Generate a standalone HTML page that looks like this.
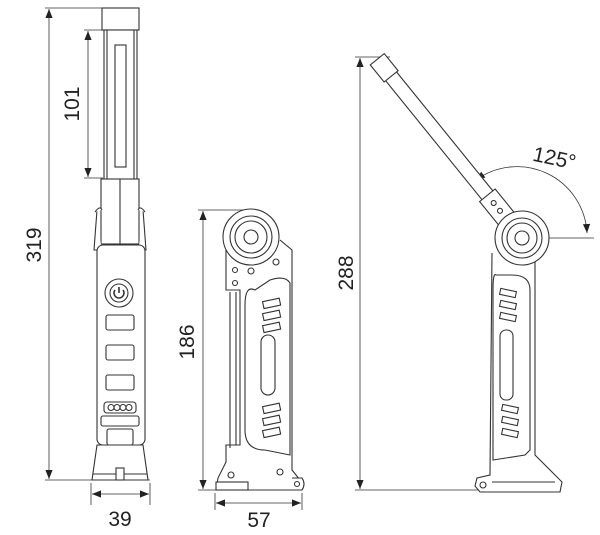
<!DOCTYPE html>
<html><head><meta charset="utf-8"><style>
html,body{margin:0;padding:0;background:#fff;width:600px;height:535px;overflow:hidden}
svg{display:block}
text{font-family:"Liberation Sans",sans-serif;fill:#222}
</style></head><body>
<svg width="600" height="535" viewBox="0 0 600 535" xmlns="http://www.w3.org/2000/svg">
<defs>
<marker id="a" viewBox="0 0 10 10" refX="10" refY="5" markerWidth="11" markerHeight="9" orient="auto-start-reverse" markerUnits="userSpaceOnUse"><path d="M0,1 L10,5 L0,9 z" fill="#222"/></marker>
</defs>
<g fill="none" stroke="#333" stroke-width="0.8">
<line x1="45" y1="8" x2="102" y2="8"/>
<line x1="49" y1="9" x2="49" y2="479" marker-start="url(#a)" marker-end="url(#a)"/>
<line x1="45" y1="480" x2="150" y2="480"/>
<line x1="84" y1="30" x2="103" y2="30"/>
<line x1="84" y1="178" x2="103" y2="178"/>
<line x1="88" y1="31" x2="88" y2="177" marker-start="url(#a)" marker-end="url(#a)"/>
<line x1="91" y1="483" x2="91" y2="505"/>
<line x1="150" y1="483" x2="150" y2="505"/>
<line x1="92" y1="494" x2="149" y2="494" marker-start="url(#a)" marker-end="url(#a)"/>
</g>
<g fill="#fff" stroke="#333" stroke-width="1.1">
<rect x="102" y="8" width="37" height="22"/>
<rect x="104" y="30" width="33" height="150"/>
<line x1="107" y1="30" x2="107" y2="180"/><line x1="134" y1="30" x2="134" y2="180"/>
<rect x="115" y="45" width="11" height="122"/>
<rect x="101" y="179" width="38" height="65"/>
<line x1="120" y1="179" x2="120" y2="480"/>
<path d="M97,210 L94,250 L99,250 L101,245 M143,210 L146,250 L141,250 L139,245"/>
<path d="M95,212 Q100,205 102,210 M145,212 Q140,205 138,210"/>
<rect x="97" y="245" width="48" height="200" rx="6"/>
<circle cx="119" cy="293" r="14"/><circle cx="119" cy="293" r="9"/>
<path d="M115,290 A5,5 0 1 0 123,290 M119,287 L119,293" stroke-width="1.6"/>
<rect x="106" y="315" width="28" height="15" rx="2"/>
<rect x="106" y="345" width="28" height="15" rx="2"/>
<rect x="106" y="375" width="28" height="15" rx="2"/>
<rect x="104" y="402" width="32" height="11" rx="3"/>
<circle cx="111" cy="407.5" r="3"/><circle cx="117" cy="407.5" r="3"/><circle cx="123" cy="407.5" r="3"/><circle cx="129" cy="407.5" r="3"/>
<rect x="101" y="416" width="38" height="10" rx="2"/>
<rect x="107" y="429" width="26" height="16" rx="2"/>
<path d="M92,480 L97,445 L143,445 L148,480 Z"/>
<line x1="93" y1="474" x2="147" y2="474"/>
<rect x="116" y="468" width="8" height="12"/>
</g>
<g fill="none" stroke="#333" stroke-width="0.8">
<line x1="198" y1="210" x2="250" y2="210"/>
<line x1="203" y1="211" x2="203" y2="489" marker-start="url(#a)" marker-end="url(#a)"/>
<line x1="198" y1="490" x2="216" y2="490"/>
<line x1="215" y1="493" x2="215" y2="510"/>
<line x1="302" y1="493" x2="302" y2="510"/>
<line x1="216" y1="503" x2="301" y2="503" marker-start="url(#a)" marker-end="url(#a)"/>
</g>
<g fill="#fff" stroke="#333" stroke-width="1.1">
<path d="M226,238 L226,290 L240,290 L240,445 L226,445 L226,462 L218,478 L216,490 L300,490 L300,480 L292,470 L292,250 L280,240"/>
<path d="M230,292 L230,448 M236,292 L236,445"/>
<path d="M255,290 Q245,285 245,305 L245,430 Q245,450 265,450 L290,455 L290,283 Q285,275 270,280 Z"/>
<rect x="263" y="300" width="17" height="7" transform="rotate(-12 271 303)"/>
<rect x="263" y="312" width="17" height="7" transform="rotate(-12 271 315)"/>
<rect x="263" y="324" width="17" height="7" transform="rotate(-12 271 327)"/>
<rect x="261" y="335" width="14" height="60" rx="7"/>
<rect x="263" y="405" width="17" height="7" transform="rotate(-12 271 408)"/>
<rect x="263" y="417" width="17" height="7" transform="rotate(-12 271 420)"/>
<rect x="263" y="429" width="17" height="7" transform="rotate(-12 271 432)"/>
<circle cx="251" cy="237" r="28"/><circle cx="251" cy="237" r="21"/><circle cx="251" cy="237" r="16"/><circle cx="251" cy="237" r="7"/>
<circle cx="276" cy="262" r="3"/><circle cx="251" cy="271" r="3"/><circle cx="235" cy="270" r="2.5"/><circle cx="235" cy="283" r="2.5"/>
<circle cx="231" cy="475" r="3"/><circle cx="280" cy="472" r="3"/>
<path d="M292,478 L302,478 Q306,484 302,490 L292,490"/><circle cx="297" cy="484" r="2.5"/>
<rect x="216" y="482" width="32" height="8"/>
</g>
<g fill="none" stroke="#333" stroke-width="0.8">
<line x1="355" y1="57" x2="390" y2="57"/>
<line x1="360" y1="58" x2="360" y2="489" marker-start="url(#a)" marker-end="url(#a)"/>
<line x1="355" y1="490" x2="480" y2="490"/>
<line x1="545" y1="238" x2="594" y2="238"/>
<path d="M476,180 A70,70 0 0 1 587,233" marker-start="url(#a)" marker-end="url(#a)"/>
</g>
<g fill="#fff" stroke="#333" stroke-width="1.1">
<path d="M492,253 L490,475 L477,478 L475,486 L480,492 L560,492 L562,482 L550,470 L535,455 L535,250"/>
<path d="M496,275 Q493,272 493,290 L493,460 L525,455 L530,450 L530,290 Q530,275 512,275 Z"/>
<rect x="500" y="290" width="16" height="6" transform="rotate(12 508 293)"/>
<rect x="500" y="302" width="16" height="6" transform="rotate(12 508 305)"/>
<rect x="500" y="314" width="16" height="6" transform="rotate(12 508 317)"/>
<rect x="500" y="330" width="13" height="70" rx="6"/>
<rect x="502" y="406" width="16" height="6" transform="rotate(12 510 409)"/>
<rect x="502" y="418" width="16" height="6" transform="rotate(12 510 421)"/>
<rect x="502" y="430" width="16" height="6" transform="rotate(12 510 433)"/>
<line x1="492" y1="482" x2="555" y2="482"/>
<circle cx="483" cy="485" r="3"/>
<g transform="translate(522,238) rotate(-39)">
<rect x="-7" y="-222" width="14" height="175"/>
<rect x="-9" y="-230" width="18" height="22"/>
<rect x="-10" y="-55" width="20" height="30"/>
<circle cx="0" cy="-45" r="2.5"/><circle cx="0" cy="-35" r="2.5"/>
</g>
<circle cx="522" cy="238" r="27"/><circle cx="522" cy="238" r="20"/><circle cx="522" cy="238" r="15"/><circle cx="522" cy="238" r="7"/>
</g>
<text x="0" y="0" font-size="21" transform="translate(41,245) rotate(-90)" text-anchor="middle">319</text>
<text x="0" y="0" font-size="21" transform="translate(79,104) rotate(-90)" text-anchor="middle">101</text>
<text x="120" y="526" font-size="21" text-anchor="middle">39</text>
<text x="0" y="0" font-size="21" transform="translate(194,342) rotate(-90)" text-anchor="middle">186</text>
<text x="259" y="527" font-size="21" text-anchor="middle">57</text>
<text x="0" y="0" font-size="21" transform="translate(353,273) rotate(-90)" text-anchor="middle">288</text>
<text x="0" y="0" font-size="21" transform="translate(553,165) rotate(12)" text-anchor="middle">125°</text>
</svg>
</body></html>
